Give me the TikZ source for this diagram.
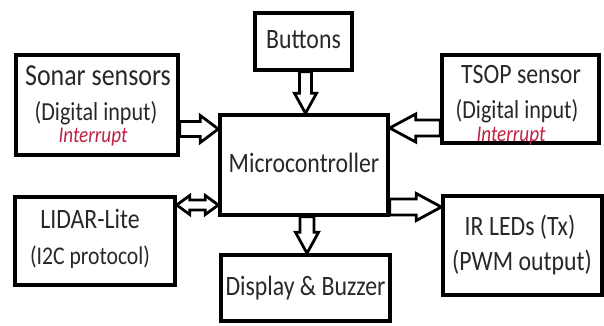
\documentclass[tikz,border=0pt]{standalone}
\usepackage{fontspec}
\setmainfont{Carlito}[FakeStretch=0.85]
\usetikzlibrary{calc}
\definecolor{irq}{RGB}{190,35,65}
\definecolor{ink}{RGB}{40,40,40}
\tikzset{
  box/.style={draw=black, line width=3.4pt, fill=white, inner sep=0pt},
  lbl/.style={anchor=base, inner sep=0pt, text=ink},
  big/.style={lbl, font=\fontsize{28}{30}\selectfont},
  sub/.style={lbl, font=\fontsize{26}{28}\selectfont},
  irqtxt/.style={anchor=base, inner sep=0pt, text=irq, font=\fontsize{22.5}{24}\selectfont\itshape},
  % hollow block arrow: shaft half-width, head half-width, head length
  blockarrow/.style n args={3}{draw=black, line width=2.8pt, fill=white, line join=miter,
    to path={let \p1=($(\tikztotarget)!#3!(\tikztostart)$) in
      ($(\tikztostart)!#1!90:(\tikztotarget)$) -- ($(\p1)!#1!90:(\tikztotarget)$)
      -- ($(\p1)!#2!90:(\tikztotarget)$) -- (\tikztotarget)
      -- ($(\p1)!#2!-90:(\tikztotarget)$) -- ($(\p1)!#1!-90:(\tikztotarget)$)
      -- ($(\tikztostart)!#1!-90:(\tikztotarget)$) -- cycle}},
  % hollow arrow with a head at both ends
  twoway/.style n args={3}{draw=black, line width=2.8pt, fill=white, line join=miter,
    to path={let \p1=($(\tikztotarget)!#3!(\tikztostart)$), \p2=($(\tikztostart)!#3!(\tikztotarget)$) in
      (\tikztostart) -- ($(\p2)!#2!-90:(\tikztostart)$) -- ($(\p2)!#1!-90:(\tikztostart)$)
      -- ($(\p1)!#1!90:(\tikztotarget)$) -- ($(\p1)!#2!90:(\tikztotarget)$) -- (\tikztotarget)
      -- ($(\p1)!#2!-90:(\tikztotarget)$) -- ($(\p1)!#1!-90:(\tikztotarget)$)
      -- ($(\p2)!#1!90:(\tikztostart)$) -- ($(\p2)!#2!90:(\tikztostart)$) -- cycle}},
}
\begin{document}
\begin{tikzpicture}[x=1pt, y=-1pt]
\useasboundingbox (0,0) rectangle (604,325);

% blocks
\node[box, minimum width=162pt, minimum height=100pt] (sonar)   at (97,105)    {};
\node[box, minimum width=157pt, minimum height=88pt]  (tsop)    at (520.5,99)  {};
\node[box, minimum width=97pt,  minimum height=57pt]  (buttons) at (303.5,41.5){};
\node[box, minimum width=168pt, minimum height=100pt] (micro)   at (304,165)   {};
\node[box, minimum width=160pt, minimum height=88pt]  (lidar)   at (95,241)    {};
\node[box, minimum width=159pt, minimum height=99pt]  (ir)      at (522.5,245.5){};
\node[box, minimum width=169pt, minimum height=66pt]  (display) at (305.5,288) {};

% texts
\node[lbl, font=\fontsize{30.5}{32}\selectfont] at (98,85) {Sonar sensors};
\node[sub] at (96,120) {(Digital input)};
\node[irqtxt] at (93,142.5) {Interrupt};

\node[lbl, font=\fontsize{28}{30}\selectfont] at (521,83) {TSOP sensor};
\node[sub] at (517,118) {(Digital input)};
\node[irqtxt] at (511,141) {Interrupt};

\node[big] at (303.5,48) {Buttons};
\node[big] at (304,172) {Microcontroller};
\node[big] at (90,228) {LIDAR-Lite};
\node[sub, font=\fontsize{25.5}{27}\selectfont] at (90,264) {(I2C protocol)};
\node[big] at (520,235) {IR LEDs (Tx)};
\node[big] at (522,270) {(PWM output)};
\node[big] at (305.5,295) {Display \& Buzzer};

% arrow end points on the block borders
\coordinate (a1) at (sonar.east |- 0,129);
\coordinate (a2) at (micro.west |- 0,129);
\coordinate (b1) at (tsop.west |- 0,128);
\coordinate (b2) at (micro.east |- 0,128);
\coordinate (c1) at (buttons.south -| 305.5,0);
\coordinate (c2) at (micro.north -| 305.5,0);
\coordinate (d1) at (micro.south -| 307,0);
\coordinate (d2) at (display.north -| 307,0);
\coordinate (e1) at (lidar.east |- 0,205);
\coordinate (e2) at (micro.west |- 0,205);
\coordinate (f1) at (micro.east |- 0,207);
\coordinate (f2) at (ir.west |- 0,207);

% connectors
\draw[blockarrow={7.5pt}{13.5pt}{18pt}] (a1) to (a2);
\draw[blockarrow={8pt}{14pt}{26pt}] (b1) to (b2);
\draw[blockarrow={6pt}{11pt}{20pt}] (c1) to (c2);
\draw[blockarrow={7pt}{11.5pt}{21pt}] (d1) to (d2);
\draw[twoway={5pt}{9.5pt}{13pt}] (e1) to (e2);
\draw[blockarrow={8pt}{13.5pt}{25pt}] (f1) to (f2);
\end{tikzpicture}
\end{document}
